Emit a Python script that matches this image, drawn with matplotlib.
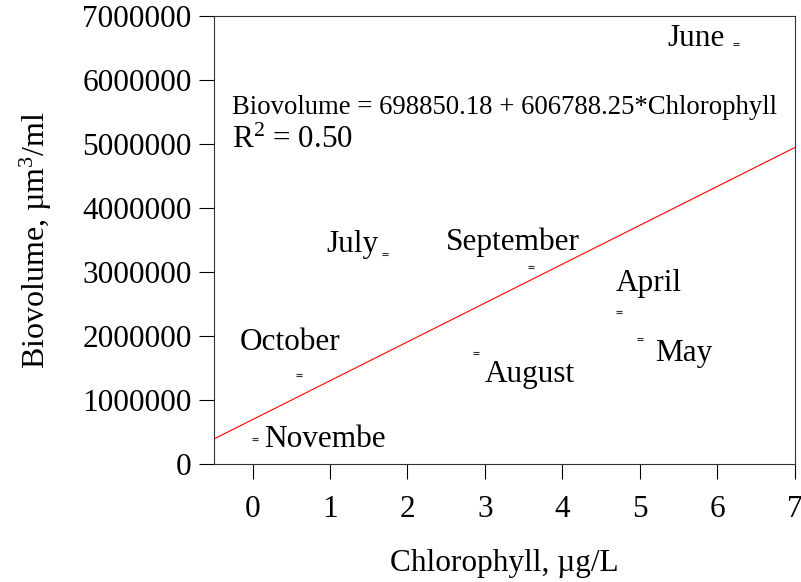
import numpy as np
import matplotlib
matplotlib.use("Agg")
import matplotlib.pyplot as plt
from matplotlib.path import Path
from matplotlib.ticker import FormatStrFormatter

plt.rcParams['font.family'] = ['Liberation Serif', 'DejaVu Serif']
plt.rcParams['mathtext.fontset'] = 'custom'
plt.rcParams['mathtext.rm'] = 'Liberation Serif'
plt.rcParams['mathtext.it'] = 'Liberation Serif:italic'

# monthly samples: chlorophyll (ug/L) vs biovolume (um3/ml)
months = ['Novembe', 'October', 'July', 'August', 'September', 'April', 'May', 'June']
chlorophyll = [0.03, 0.60, 1.71, 2.88, 3.59, 4.73, 5.00, 6.24]
biovolume = [390000, 1400000, 3280000, 1740000, 3080000, 2380000, 1960000, 6560000]

# label offsets in pixels (dx, dy) and alignment
label_dx = [9, -9, -6, 9, -18, -3, 15, -11]
label_dy = [0, 32, 10, -22, 25, 28, -15, 6]
label_ha = ['left', 'center', 'right', 'left', 'center', 'left', 'left', 'right']

intercept = 698850.18
slope = 606788.25
r_squared = 0.50

# small "=" shaped marker: two short horizontal strokes
eq_marker = Path([(-1, 0.4), (1, 0.4), (-1, -0.4), (1, -0.4)],
                 [Path.MOVETO, Path.LINETO, Path.MOVETO, Path.LINETO])

fig = plt.figure(figsize=(8.01, 5.82), dpi=100)
ax = fig.add_axes([0.267, 0.2022, 0.725, 0.770])

ax.plot(chlorophyll, biovolume, linestyle='none', marker=eq_marker,
        markersize=4.5, markeredgewidth=0.8, color='#333333')

for m, x, y, dx, dy, ha in zip(months, chlorophyll, biovolume, label_dx, label_dy, label_ha):
    ax.annotate(m, (x, y), xytext=(dx * 0.72, dy * 0.72), textcoords='offset points',
                ha=ha, va='center', fontsize=22.5)

xs = np.array([-0.5, 7])
ax.plot(xs, intercept + slope * xs, color='red', lw=0.8)

ax.text(0.032, 0.797, f'Biovolume = {intercept:.2f} + {slope:.2f}*Chlorophyll',
        transform=ax.transAxes, fontsize=19.3, va='center')
ax.text(0.032, 0.723, f'R$^2$ = {r_squared:.2f}', transform=ax.transAxes,
        fontsize=22.4, va='center')

ax.set_xlim(-0.5, 7)
ax.set_ylim(0, 7000000)
ax.set_xticks(range(0, 8))
ax.set_yticks(range(0, 7000001, 1000000))
ax.yaxis.set_major_formatter(FormatStrFormatter('%d'))
ax.tick_params(axis='x', length=10.8, width=0.8, pad=11, labelsize=22.5)
ax.tick_params(axis='y', length=11, width=0.8, pad=5, labelsize=22.5)
for s in ax.spines.values():
    s.set_linewidth(0.8)
    s.set_color('#333333')

ax.set_xlabel('Chlorophyll, µg/L', fontsize=22.5, labelpad=18)
ax.set_ylabel('Biovolume, µm$^3$/ml', fontsize=23, labelpad=20)

fig.savefig('out.png', dpi=100)
